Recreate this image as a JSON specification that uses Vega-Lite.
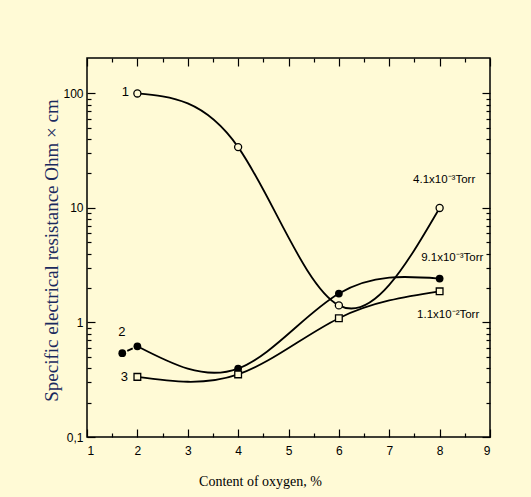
{
  "$schema": "https://vega.github.io/schema/vega-lite/v6.json",
  "width": 403,
  "height": 379,
  "autosize": {"type": "none"},
  "padding": {"left": 87, "top": 58, "right": 41, "bottom": 60},
  "background": "#FFFAD6",
  "config": {
    "view": {"stroke": "black", "strokeWidth": 1.5},
    "axis": {"grid": false, "domain": false, "tickColor": "black", "tickWidth": 1.2, "labelColor": "black", "labelFont": "Liberation Sans", "labelFontSize": 12, "titleFontWeight": "normal", "titleColor": "black"}
  },
  "datasets": {
    "pts": [
      {"s": 1, "x": 2, "r": 100},
      {"s": 1, "x": 4, "r": 34},
      {"s": 1, "x": 6, "r": 1.41},
      {"s": 1, "x": 8, "r": 10},
      {"s": 2, "x": 1.7, "r": 0.54},
      {"s": 2, "x": 2, "r": 0.62},
      {"s": 2, "x": 4, "r": 0.396},
      {"s": 2, "x": 6, "r": 1.79},
      {"s": 2, "x": 8, "r": 2.42},
      {"s": 3, "x": 2, "r": 0.335},
      {"s": 3, "x": 4, "r": 0.352},
      {"s": 3, "x": 6, "r": 1.09},
      {"s": 3, "x": 8, "r": 1.87}
    ],
    "labels": [
      {"kind": "n", "label": "1", "x": 1.76, "r": 104},
      {"kind": "n", "label": "2", "x": 1.69, "r": 0.82},
      {"kind": "n", "label": "3", "x": 1.74, "r": 0.331},
      {"kind": "t", "label": "4.1x10⁻³Torr", "x": 8.09, "r": 17.4},
      {"kind": "t", "label": "9.1x10⁻³Torr", "x": 8.25, "r": 3.63},
      {"kind": "t", "label": "1.1x10⁻²Torr", "x": 8.17, "r": 1.17}
    ]
  },
  "layer": [
    {
      "data": {"name": "pts"},
      "transform": [{"filter": "datum.x >= 2"}],
      "mark": {"type": "line", "interpolate": "natural", "color": "black", "strokeWidth": 1.8},
      "encoding": {
        "x": {"field": "x", "type": "quantitative", "scale": {"domain": [1, 9], "nice": false, "zero": false},
          "axis": {"orient": "bottom", "values": [1, 2, 3, 4, 5, 6, 7, 8, 9], "ticks": false, "labelPadding": 8,
            "title": "Content of oxygen, %", "titleFont": "Liberation Serif", "titleFontSize": 14, "titleX": 173, "titleY": 44, "titleBaseline": "middle"}},
        "y": {"field": "r", "type": "quantitative", "scale": {"type": "log", "domain": [0.1, 204], "nice": false},
          "axis": {"orient": "left", "values": [0.1, 1, 10, 100], "ticks": false, "labelPadding": 4, "labelExpr": "datum.value < 0.5 ? '0,1' : datum.label",
            "title": "Specific electrical resistance Ohm × cm", "titleFont": "Liberation Serif", "titleFontSize": 19, "titleColor": "#1b2a5e", "titleX": -26, "titleY": 192, "titleBaseline": "bottom"}},
        "detail": {"field": "s", "type": "nominal"}
      }
    },
    {
      "data": {"name": "pts"},
      "transform": [{"filter": "datum.s == 2 && datum.x <= 2"}],
      "mark": {"type": "line", "color": "black", "strokeWidth": 1.8, "strokeDash": [0, 5.5, 6, 30]},
      "encoding": {
        "x": {"field": "x", "type": "quantitative", "scale": {"domain": [1, 9], "nice": false, "zero": false},
          "axis": {"orient": "bottom", "values": [1, 2, 3, 4, 5, 6, 7, 8, 9], "labels": false, "tickSize": -8, "title": null}},
        "y": {"field": "r", "type": "quantitative", "scale": {"type": "log", "domain": [0.1, 204], "nice": false},
          "axis": {"orient": "left", "values": [0.1, 1, 10, 100], "labels": false, "tickSize": -8, "title": null}}
      }
    },
    {
      "data": {"name": "pts"},
      "transform": [{"filter": "datum.s == 1"}],
      "mark": {"type": "point", "shape": "circle", "filled": true, "fill": "#FFFAD6", "stroke": "black", "strokeWidth": 1.3, "size": 50, "opacity": 1},
      "encoding": {
        "x": {"field": "x", "type": "quantitative", "scale": {"domain": [1, 9], "nice": false, "zero": false},
          "axis": {"orient": "top", "values": [1, 2, 3, 4, 5, 6, 7, 8, 9], "labels": false, "tickSize": -8, "title": null}},
        "y": {"field": "r", "type": "quantitative", "scale": {"type": "log", "domain": [0.1, 204], "nice": false},
          "axis": {"orient": "right", "values": [0.1, 1, 10, 100], "labels": false, "tickSize": -8, "title": null}}
      }
    },
    {
      "data": {"name": "pts"},
      "transform": [{"filter": "datum.s == 2"}],
      "mark": {"type": "point", "shape": "circle", "filled": true, "color": "black", "size": 60, "opacity": 1},
      "encoding": {
        "x": {"field": "x", "type": "quantitative", "scale": {"domain": [1, 9], "nice": false, "zero": false},
          "axis": {"orient": "top", "values": [1.5, 2.5, 3.5, 4.5, 5.5, 6.5, 7.5, 8.5], "labels": false, "tickSize": -4, "title": null}},
        "y": {"field": "r", "type": "quantitative", "scale": {"type": "log", "domain": [0.1, 204], "nice": false},
          "axis": {"orient": "right", "values": [0.2, 0.3, 0.4, 0.5, 0.6, 0.7, 0.8, 0.9, 2, 3, 4, 5, 6, 7, 8, 9, 20, 30, 40, 50, 60, 70, 80, 90], "labels": false, "tickSize": -4, "title": null}}
      }
    },
    {
      "data": {"name": "pts"},
      "transform": [{"filter": "datum.s == 3"}],
      "mark": {"type": "point", "shape": "square", "filled": true, "fill": "#FFFAD6", "stroke": "black", "strokeWidth": 1.3, "size": 45, "opacity": 1},
      "encoding": {
        "x": {"field": "x", "type": "quantitative", "scale": {"domain": [1, 9], "nice": false, "zero": false},
          "axis": {"orient": "bottom", "values": [1.5, 2.5, 3.5, 4.5, 5.5, 6.5, 7.5, 8.5], "labels": false, "tickSize": -4, "title": null}},
        "y": {"field": "r", "type": "quantitative", "scale": {"type": "log", "domain": [0.1, 204], "nice": false},
          "axis": {"orient": "left", "values": [0.2, 0.3, 0.4, 0.5, 0.6, 0.7, 0.8, 0.9, 2, 3, 4, 5, 6, 7, 8, 9, 20, 30, 40, 50, 60, 70, 80, 90], "labels": false, "tickSize": -4, "title": null}}
      }
    },
    {
      "data": {"name": "labels"},
      "transform": [{"filter": "datum.kind == 'n'"}],
      "mark": {"type": "text", "font": "Liberation Sans", "fontSize": 13, "color": "black", "align": "center", "baseline": "middle"},
      "encoding": {
        "x": {"field": "x", "type": "quantitative", "scale": {"domain": [1, 9], "nice": false, "zero": false}, "axis": null},
        "y": {"field": "r", "type": "quantitative", "scale": {"type": "log", "domain": [0.1, 204], "nice": false}, "axis": null},
        "text": {"field": "label"}
      }
    },
    {
      "data": {"name": "labels"},
      "transform": [{"filter": "datum.kind == 't'"}],
      "mark": {"type": "text", "font": "Liberation Sans", "fontSize": 11.5, "color": "black", "align": "center", "baseline": "middle"},
      "encoding": {
        "x": {"field": "x", "type": "quantitative", "scale": {"domain": [1, 9], "nice": false, "zero": false}, "axis": null},
        "y": {"field": "r", "type": "quantitative", "scale": {"type": "log", "domain": [0.1, 204], "nice": false}, "axis": null},
        "text": {"field": "label"}
      }
    }
  ],
  "resolve": {"axis": {"x": "independent", "y": "independent"}}
}
